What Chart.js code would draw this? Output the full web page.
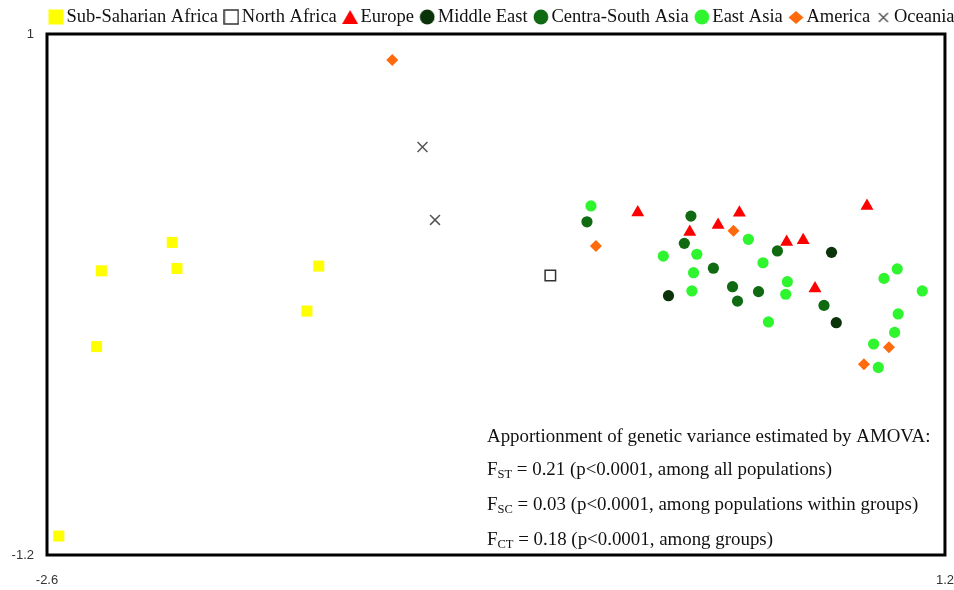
<!DOCTYPE html>
<html>
<head>
<meta charset="utf-8">
<script src="https://cdn.jsdelivr.net/npm/chart.js@4.4.1/dist/chart.umd.min.js"></script>
<style>
  html, body { margin: 0; padding: 0; background: #fff; }
</style>
</head>
<body>
<canvas id="chart" width="954" height="590"></canvas>
<script>
// group names (legend order)
const groups = ["Sub-Saharian Africa", "North Africa", "Europe", "Middle East",
  "Centra-South Asia", "East Asia", "America", "Oceania"];

// PC coordinates
const subSaharanX = [-2.37, -2.07, -2.05, -1.45, -1.50, -2.39, -2.55];
const subSaharanY = [0.00, 0.12, 0.01, 0.02, -0.17, -0.32, -1.12];
const northAfricaX = [-0.47];
const northAfricaY = [-0.02];
const europeX = [-0.10, 0.12, 0.24, 0.33, 0.53, 0.60, 0.65, 0.87];
const europeY = [0.246, 0.164, 0.193, 0.245, 0.122, 0.129, -0.075, 0.274];
const middleEastX = [0.03, 0.72, 0.74];
const middleEastY = [-0.105, 0.078, -0.219];
const centraSouthX = [-0.315, 0.125, 0.097, 0.220, 0.491, 0.301, 0.322, 0.411, 0.688];
const centraSouthY = [0.207, 0.231, 0.116, 0.011, 0.084, -0.067, -0.128, -0.088, -0.146];
const eastAsiaX = [-0.298, 0.008, 0.150, 0.136, 0.129, 0.368, 0.430, 0.533, 0.526,
  0.453, 0.942, 0.998, 1.104, 1.002, 0.987, 0.898, 0.918];
const eastAsiaY = [0.274, 0.062, 0.070, -0.008, -0.085, 0.133, 0.034, -0.046, -0.099,
  -0.216, -0.032, 0.008, -0.085, -0.182, -0.260, -0.309, -0.408];
const americaX = [-1.139, -0.277, 0.305, 0.963, 0.857];
const americaY = [0.890, 0.105, 0.169, -0.323, -0.395];
const oceaniaX = [-1.011, -0.958];
const oceaniaY = [0.523, 0.215];

// axis range / tick labels
const xRange = [-2.6, 1.2];
const yRange = [-1.2, 1];

// AMOVA note
const noteTitle = "Apportionment of genetic variance estimated by AMOVA:";
const noteSubs = ["ST", "SC", "CT"];
const noteRest = [
  " = 0.21 (p<0.0001, among all populations)",
  " = 0.03 (p<0.0001, among populations within groups)",
  " = 0.18 (p<0.0001, among groups)"
];

const xs = [subSaharanX, northAfricaX, europeX, middleEastX, centraSouthX, eastAsiaX, americaX, oceaniaX];
const ys = [subSaharanY, northAfricaY, europeY, middleEastY, centraSouthY, eastAsiaY, americaY, oceaniaY];

// marker styles
const styles = [
  { pointStyle: "rect", radius: 7.8, bg: "#ffff00", border: "#ffff00", bw: 0, icon: "square" },
  { pointStyle: "rect", radius: 7.4, bg: "#ffffff", border: "#333333", bw: 1.5, icon: "open" },
  { pointStyle: "triangle", radius: 7.5, bg: "#ff0000", border: "#ff0000", bw: 0, icon: "triangle" },
  { pointStyle: "circle", radius: 5.6, bg: "#0a330a", border: "#0a330a", bw: 0, icon: "circle" },
  { pointStyle: "circle", radius: 5.6, bg: "#0f6a12", border: "#0f6a12", bw: 0, icon: "circle" },
  { pointStyle: "circle", radius: 5.6, bg: "#2ef52e", border: "#2ef52e", bw: 0, icon: "circle" },
  { pointStyle: "rectRot", radius: 6, bg: "#ff6a0d", border: "#ff6a0d", bw: 0, icon: "diamond" },
  { pointStyle: "crossRot", radius: 7, bg: "#555555", border: "#555555", bw: 1.5, icon: "cross" }
];

function makeIcon(st) {
  const c = document.createElement("canvas");
  c.width = 16; c.height = 16;
  const g = c.getContext("2d");
  g.fillStyle = st.bg;
  g.strokeStyle = st.border;
  g.beginPath();
  if (st.icon === "square") {
    g.fillRect(0.5, 0.5, 15, 15);
  } else if (st.icon === "open") {
    g.fillRect(1, 1, 14, 14);
    g.lineWidth = 1.5;
    g.strokeRect(1, 1, 14, 14);
  } else if (st.icon === "triangle") {
    g.moveTo(8, 1); g.lineTo(16, 15); g.lineTo(0, 15); g.closePath(); g.fill();
  } else if (st.icon === "circle") {
    g.arc(8, 8, 7.4, 0, Math.PI * 2); g.fill();
  } else if (st.icon === "diamond") {
    g.moveTo(8, 2); g.lineTo(15.5, 8.5); g.lineTo(8, 15); g.lineTo(0.5, 8.5); g.closePath(); g.fill();
  } else if (st.icon === "cross") {
    g.lineWidth = 1.5;
    g.moveTo(3.5, 4); g.lineTo(12.5, 13); g.moveTo(12.5, 4); g.lineTo(3.5, 13); g.stroke();
  }
  return c;
}
const icons = styles.map(makeIcon);

const datasets = groups.map((name, i) => ({
  label: name,
  data: xs[i].map((x, k) => ({ x: x, y: ys[i][k] })),
  pointStyle: styles[i].pointStyle,
  pointRadius: styles[i].radius,
  pointHoverRadius: styles[i].radius,
  pointBackgroundColor: styles[i].bg,
  pointBorderColor: styles[i].border,
  pointBorderWidth: styles[i].bw,
  showLine: false
}));

const serif = '"Liberation Serif", "Times New Roman", serif';
const tickFont = { family: '"Liberation Sans", Arial, sans-serif', size: 13 };

// frame around the plot area + legend placement
const framePlugin = {
  id: "frame",
  afterLayout(chart) {
    chart.legend.left = 42.75;
    chart.legend.top = -4.25;
    chart.legend.right = chart.width + 60;
  },
  beforeDatasetsDraw(chart) {
    const { ctx, chartArea: a } = chart;
    ctx.save();
    ctx.lineWidth = 3;
    ctx.strokeStyle = "#000";
    ctx.strokeRect(a.left, a.top, a.right - a.left, a.bottom - a.top);
    ctx.restore();
  }
};

// AMOVA text block, bottom right inside plot
const notePlugin = {
  id: "note",
  afterDatasetsDraw(chart) {
    const { ctx, chartArea: a } = chart;
    const x0 = a.left + 440;
    const big = "18.9px " + serif;
    ctx.save();
    ctx.fillStyle = "#111";
    ctx.textBaseline = "middle";
    ctx.textAlign = "left";
    ctx.font = big;
    ctx.fillText(noteTitle, x0, a.bottom - 118);
    const rows = [a.bottom - 85, a.bottom - 50, a.bottom - 15];
    rows.forEach((y, i) => {
      ctx.font = big;
      ctx.fillText("F", x0, y);
      let x = x0 + ctx.measureText("F").width;
      ctx.font = "12.5px " + serif;
      ctx.fillText(noteSubs[i], x, y + 5);
      x += ctx.measureText(noteSubs[i]).width;
      ctx.font = big;
      ctx.fillText(noteRest[i], x, y);
    });
    ctx.restore();
  }
};

const onlyEnds = (scale) => {
  scale.ticks = [{ value: scale.min }, { value: scale.max }];
};

new Chart(document.getElementById("chart"), {
  type: "scatter",
  data: { datasets },
  options: {
    responsive: false,
    animation: false,
    devicePixelRatio: 1,
    layout: { padding: { top: -6.5, left: 0, right: 0, bottom: 0 } },
    scales: {
      x: {
        min: xRange[0], max: xRange[1],
        grid: { display: false, drawTicks: true, tickLength: 18 },
        border: { display: false },
        afterBuildTicks: onlyEnds,
        afterFit: (s) => { s.height = 35; },
        ticks: {
          font: tickFont, color: "#333", padding: 0, maxRotation: 0,
          callback: (v) => String(v)
        }
      },
      y: {
        min: yRange[0], max: yRange[1],
        grid: { display: false, drawTicks: true, tickLength: 13 },
        border: { display: false },
        afterBuildTicks: onlyEnds,
        afterFit: (s) => { s.width = 47; },
        ticks: {
          font: tickFont, color: "#333", padding: 0,
          callback: (v) => String(v)
        }
      }
    },
    plugins: {
      tooltip: { enabled: false },
      legend: {
        position: "top",
        align: "start",
        labels: {
          usePointStyle: true,
          pointStyleWidth: 2.5,
          padding: 12,
          color: "#111",
          font: { family: serif, size: 18.5 },
          generateLabels: (chart) => chart.data.datasets.map((ds, i) => ({
            text: ds.label,
            pointStyle: icons[i],
            fillStyle: styles[i].bg,
            strokeStyle: styles[i].border,
            lineWidth: 0,
            hidden: false,
            datasetIndex: i,
            fontColor: "#111"
          }))
        }
      }
    }
  },
  plugins: [framePlugin, notePlugin]
});
</script>
</body>
</html>
